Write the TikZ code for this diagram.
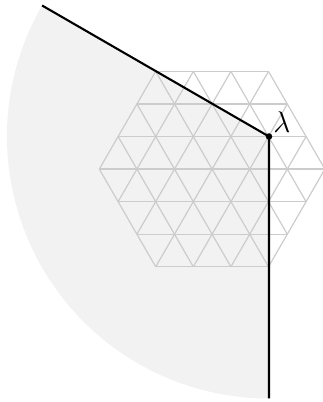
\documentclass[tikz,border=0pt]{standalone}
\usetikzlibrary{calc}
\begin{document}
\begin{tikzpicture}[x=1pt,y=1pt,
  shadefill/.style={fill=black!5, draw=none},
  latt/.style={draw=black!20, line width=1.2pt},
  bold/.style={draw=black, line width=2.1pt},
  dotnode/.style={circle, fill=black, inner sep=0pt, minimum size=6.5pt},
  lbl/.style={inner sep=0pt, font=\Huge, scale=1.2}]
\useasboundingbox (0,0) rectangle (322,402);
\coordinate (lam) at (269,265.5);
\coordinate (A) at ($(lam)+(150:262)$);
\coordinate (B) at ($(lam)+(270:262)$);
% shaded sector
\fill[shadefill] (lam) -- (A) arc[start angle=150, end angle=270, radius=262] -- cycle;
% hexagonal triangular lattice
\foreach \r in {0,60,120}{
  \begin{scope}[shift={(212.1,232.9)}, rotate=\r]
    \foreach \k in {-3,...,3}{
      \pgfmathsetmacro\w{3*37.6-abs(\k)*18.8}
      \draw[latt] (-\w,\k*32.56) -- (\w,\k*32.56);
    }
  \end{scope}
}
% boundary rays
\draw[bold] (A) -- (lam) -- (B);
\node[dotnode] (dot) at (lam) {};
\node[lbl] (l) at ($(lam)+(13,14)$) {$\lambda$};
\end{tikzpicture}
\end{document}
